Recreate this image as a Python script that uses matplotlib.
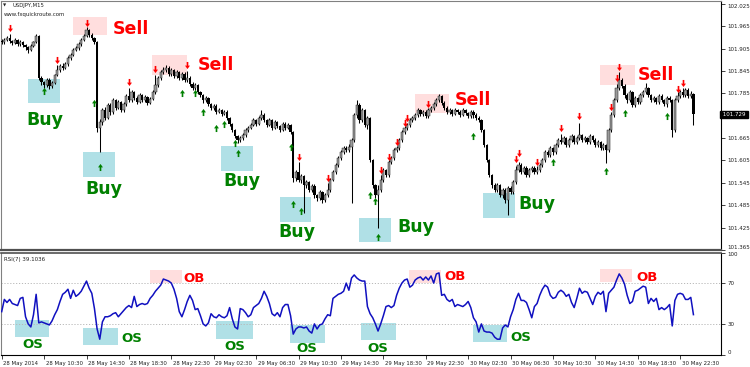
import matplotlib
matplotlib.use("Agg")
import matplotlib.pyplot as plt
import matplotlib.transforms as mtransforms
from matplotlib.patches import Rectangle
from matplotlib.path import Path
import numpy as np

# USDJPY M15, 28 May 2014 06:30 .. 30 May 23:45 ; prices in points above 101.000
close_pts = [922,928,933,925,920,928,917,922,914,909,
             901,912,922,939,826,815,807,821,805,813,
             834,847,858,853,863,880,888,901,906,917,
             928,939,955,941,933,922,692,708,740,719,
             754,735,767,746,762,740,756,778,767,788,
             772,762,780,767,775,759,770,788,807,826,
             842,847,853,837,847,831,842,826,837,821,
             826,810,799,807,788,780,767,772,756,746,
             751,735,740,730,735,719,703,687,670,660,
             665,673,687,692,700,713,703,719,727,713,
             700,713,692,708,697,687,703,692,700,681,
             558,574,553,563,539,547,526,537,512,504,
             520,499,512,526,553,574,593,612,628,638,
             633,641,660,727,754,713,740,700,719,606,
             539,512,526,553,579,566,601,612,633,638,
             660,681,692,700,713,719,727,740,730,735,
             724,740,746,756,767,778,759,746,735,740,
             730,740,735,727,740,732,724,735,727,719,
             713,687,646,606,566,539,526,539,512,526,
             499,531,520,547,579,593,574,585,566,579,
             585,574,579,593,606,628,620,638,628,646,
             660,654,665,646,660,670,654,665,673,660,
             665,654,670,660,646,654,638,646,633,687,
             727,767,800,821,805,780,767,788,754,772,
             762,780,788,799,780,767,772,762,778,767,
             756,772,767,687,767,778,788,780,794,778,
             783,729]
high_pts = [930,933,939,944,929,933,931,927,925,917,
            912,916,926,944,941,830,819,826,825,818,
            838,860,863,866,868,884,893,906,913,922,
            933,945,963,958,946,937,925,715,745,748,
            760,758,772,770,768,765,762,783,800,793,
            792,777,786,784,780,779,776,793,835,832,
            848,855,860,857,853,851,848,846,842,841,
            845,830,814,812,810,792,784,778,776,760,
            757,755,745,744,740,739,722,706,690,674,
            670,678,692,698,706,719,717,725,740,731,
            716,720,716,714,712,701,708,707,706,704,
            684,580,600,569,567,553,551,543,541,516,
            526,524,518,545,558,580,598,618,633,645,
            643,648,665,733,767,758,746,744,725,722,
            610,543,540,566,584,583,606,618,638,645,
            665,686,697,705,718,725,732,745,744,741,
            739,746,751,762,773,783,781,763,750,746,
            744,745,744,739,745,744,736,740,739,731,
            723,716,690,650,610,570,545,545,543,532,
            530,536,536,552,590,600,597,590,589,584,
            590,589,590,598,612,633,632,643,642,651,
            665,675,670,669,665,676,674,670,705,677,
            670,669,675,674,664,659,658,651,650,692,
            735,773,810,842,826,809,785,794,792,778,
            776,786,793,813,803,784,778,776,784,782,
            771,777,777,771,772,788,794,800,799,798,
            790,787]
low_pts = [916,918,925,920,914,917,912,913,908,902,
           894,897,908,919,820,808,800,803,796,800,
           810,830,843,848,849,859,875,884,897,901,
           912,924,935,936,928,916,680,628,700,713,
           715,728,730,740,742,735,736,751,762,762,
           767,756,758,762,762,754,755,766,784,803,
           821,838,842,832,832,826,827,820,820,815,
           816,805,794,795,782,775,760,762,750,740,
           741,730,731,725,726,714,698,681,664,652,
           655,660,668,682,688,696,698,699,714,708,
           694,696,687,688,692,681,683,687,688,676,
           547,550,548,545,465,532,520,521,505,495,
           499,490,494,507,521,549,569,588,607,622,
           627,628,491,655,720,706,709,694,690,600,
           532,505,424,520,548,560,561,595,607,628,
           633,655,676,687,695,708,714,722,725,725,
           719,719,735,740,750,762,753,740,730,730,
           725,726,729,722,723,727,719,720,720,714,
           707,682,640,600,560,532,520,521,506,505,
           492,459,514,515,542,574,568,569,560,561,
           574,568,569,574,588,601,614,615,620,623,
           641,648,649,640,641,655,648,649,660,654,
           655,648,649,654,640,641,632,633,598,628,
           682,722,762,795,798,772,760,762,748,749,
           756,757,775,783,775,761,762,756,757,761,
           750,748,762,668,682,762,773,775,775,773,
           773,700]
first_open_pts = 925

rsi = [42,54,51,54,50,49,48,55,56,37,
       30,27,39,59,31,32,31,30,29,33,
       39,44,52,59,61,64,55,63,57,59,
       62,67,72,65,60,45,25,15,32,37,
       37,38,40,41,37,40,43,46,48,46,
       57,47,49,50,49,50,55,58,62,65,
       68,74,73,72,70,64,55,42,37,44,
       52,58,53,44,45,38,30,28,31,40,
       37,36,39,37,36,38,46,35,27,25,
       45,44,41,37,39,46,48,50,55,62,
       57,50,40,38,41,37,46,49,49,38,
       20,25,27,27,26,27,23,21,30,25,
       29,30,35,39,38,55,57,59,60,62,
       70,63,75,78,75,73,72,72,47,40,
       36,30,23,30,38,47,48,46,48,58,
       65,70,73,74,66,68,73,75,76,73,
       76,73,77,70,79,80,58,59,54,52,
       54,47,49,48,47,49,52,46,36,32,
       22,30,23,22,22,21,17,15,15,26,
       29,27,37,44,54,60,53,53,51,44,
       36,47,50,58,64,68,66,58,55,56,
       61,63,61,57,59,51,46,55,65,60,
       62,61,55,49,57,61,59,62,42,60,
       63,66,73,79,75,69,58,50,52,62,
       63,65,67,66,50,55,52,55,44,46,
       44,46,49,28,53,59,60,59,54,54,
       56,39.1036]

time_labels = ["28 May 2014", "28 May 10:30", "28 May 14:30", "28 May 18:30",
               "28 May 22:30", "29 May 02:30", "29 May 06:30", "29 May 10:30",
               "29 May 14:30", "29 May 18:30", "29 May 22:30", "30 May 02:30",
               "30 May 06:30", "30 May 10:30", "30 May 14:30", "30 May 18:30",
               "30 May 22:30"]
price_ticks = [101.365, 101.425, 101.485, 101.545, 101.605, 101.665,
               101.785, 101.845, 101.905, 101.965, 102.025]
rsi_ticks = [0, 30, 70, 100]
last_price = 101.729

# signal arrows (bar, points)
sell_bars = [3,21,32,48,58,70,112,123,143,146,149,152,153,161,194,195,202,211,218,230,232,233,255,257]
sell_pts = [960,874,973,815,850,860,614,558,579,614,654,706,720,756,610,624,601,692,724,748,826,855,796,813]
buy_bars = [16,35,37,68,73,76,81,84,88,89,109,110,113,139,141,142,178,208,228,235,251]
buy_pts = [790,759,587,786,786,735,692,703,652,625,641,488,470,512,496,400,670,601,577,732,724]

# highlighted zones: (bar from, bar to, low pts, high pts)
buy_zones = [(9.9,22.0,759,823), (30.7,42.8,561,628), (82.8,94.7,577,644),
             (105.0,116.7,440,507), (134.8,146.9,386,451), (181.6,193.7,451,518)]
sell_zones = [(26.9,39.7,941,989), (56.7,69.9,834,888), (156.0,168.8,732,783),
              (225.8,239.0,807,861)]
buy_text = [(9.5,701), (31.4,515), (83.5,537), (104.3,400), (149.2,413), (194.8,475)]
sell_text = [(42.0,944), (74.1,847), (171.1,754), (240.1,821)]

# RSI zones: (bar from, bar to, rsi low, rsi high)
os_zones = [(5.0,17.9,17,33.5), (30.8,43.8,9.7,26), (80.9,94.8,15.6,32.5),
            (108.8,122.0,11.4,29.3), (135.7,148.8,13.8,31), (177.7,190.8,12.4,29.3)]
ob_zones = [(56.0,67.9,70,83), (153.8,165.7,70,83), (225.8,237.8,71,84)]
os_text = [(7.9,5.9), (45.3,12.7), (83.9,4.9), (111.1,2.0), (138.1,2.0), (191.8,13.7)]
ob_text = [(68.5,71.3), (166.9,73.2), (239.6,72.2)]

to_price = lambda v: 101 + np.asarray(v, dtype=float) / 1000

c = to_price(close_pts)
h = to_price(high_pts)
l = to_price(low_pts)
o = np.concatenate([[to_price(first_open_pts)], c[:-1]])
x = np.arange(len(c))

# arrow marker shapes (MT4 style up / down arrows)
up_arrow = Path([(-0.14, -0.6), (0.14, -0.6), (0.14, 0.02), (0.42, 0.02), (0, 0.6),
                 (-0.42, 0.02), (-0.14, 0.02), (-0.14, -0.6)])
down_arrow = Path([(px, -py) for px, py in up_arrow.vertices])

fig = plt.figure(figsize=(7.5, 3.67), dpi=100)
ax = fig.add_axes([1/750, 1 - 250/367, 720/750, 249/367])
ax2 = fig.add_axes([1/750, 1 - 354.5/367, 720/750, 102/367])

BLUE_BOX = '#b0e0e6'
PINK_BOX = '#ffdede'
RED = '#ff0000'
GREEN = '#008000'

# --- main chart
for b0, b1, lo, hi in buy_zones:
    ax.add_patch(Rectangle((b0, to_price(lo)), b1 - b0, to_price(hi) - to_price(lo),
                           color=BLUE_BOX, lw=0, zorder=1))
for b0, b1, lo, hi in sell_zones:
    ax.add_patch(Rectangle((b0, to_price(lo)), b1 - b0, to_price(hi) - to_price(lo),
                           color=PINK_BOX, lw=0, zorder=1))

ax.vlines(x, l, h, color='black', lw=0.75, zorder=2)
up = c >= o
body = np.where(np.abs(c - o) < 0.002, 0.002, c - o)
ax.bar(x[up], body[up], bottom=o[up], width=0.85, color='#9a9a9a',
       edgecolor='#202020', linewidth=0.35, zorder=3)
ax.bar(x[~up], body[~up], bottom=o[~up], width=0.85, color='black', lw=0, zorder=3)

ax.scatter(sell_bars, to_price(sell_pts), marker=down_arrow, s=26, color=RED,
           linewidths=0, zorder=4)
ax.scatter(buy_bars, to_price(buy_pts), marker=up_arrow, s=26, color=GREEN,
           linewidths=0, zorder=4)

for b, p in buy_text:
    ax.text(b, to_price(p), 'Buy', color=GREEN, fontsize=12.5, fontweight='bold',
            ha='left', va='baseline', zorder=5)
for b, p in sell_text:
    ax.text(b, to_price(p), 'Sell', color=RED, fontsize=12.5, fontweight='bold',
            ha='left', va='baseline', zorder=5)

ax.set_xlim(-0.26, 271.4)
ax.set_ylim(101.365, 102.0323)
ax.set_xticks([])
ax.yaxis.tick_right()
ax.set_yticks(price_ticks)
ax.set_yticklabels(['%.3f' % t for t in price_ticks])
ax.tick_params(axis='y', length=3, width=0.6, pad=1.5, labelsize=4, colors='#202020')
ax.get_yticklabels()[0].set_verticalalignment('bottom')
ax.get_yticklabels()[-1].set_verticalalignment('top')
ax.text(1.0, last_price, ' 101.729 ', transform=ax.get_yaxis_transform(),
        color='white', fontsize=4, ha='left', va='center', zorder=6,
        bbox=dict(facecolor='black', edgecolor='black', pad=0.6), clip_on=False)

ax.text(0.0056, 0.982, '\u25bc', transform=ax.transAxes, fontsize=3, ha='center',
        va='center', color='#202020')
ax.text(0.0153, 0.982, 'USDJPY,M15', transform=ax.transAxes, fontsize=3.8,
        ha='left', va='center', color='#202020')
ax.text(0.0042, 0.944, 'www.fxquickroute.com', transform=ax.transAxes, fontsize=3.9,
        ha='left', va='center', color='#202020')

for side in ['top', 'left']:
    ax.spines[side].set_color('#808080')
ax.spines['right'].set_color('black')
ax.spines['bottom'].set_color('#505050')
ax.spines['bottom'].set_linewidth(1.6)

# --- RSI pane
for b0, b1, lo, hi in os_zones:
    ax2.add_patch(Rectangle((b0, lo), b1 - b0, hi - lo, color=BLUE_BOX, lw=0, zorder=1))
for b0, b1, lo, hi in ob_zones:
    ax2.add_patch(Rectangle((b0, lo), b1 - b0, hi - lo, color=PINK_BOX, lw=0, zorder=1))
for lev in (30, 70):
    ax2.axhline(lev, color='#b8b8b8', lw=0.7, ls=(0, (1.2, 1.8)), zorder=1)
ax2.plot(x, rsi, color='#1010c0', lw=1.1, zorder=3)
for b, r in os_text:
    ax2.text(b, r, 'OS', color=GREEN, fontsize=9.5, fontweight='bold',
             ha='left', va='baseline', zorder=5)
for b, r in ob_text:
    ax2.text(b, r, 'OB', color=RED, fontsize=9.5, fontweight='bold',
             ha='left', va='baseline', zorder=5)
ax2.text(0.0042, 0.936, 'RSI(7) 39.1036', transform=ax2.transAxes, fontsize=4,
         ha='left', va='center', color='#202020')

ax2.set_xlim(-0.26, 271.4)
ax2.set_ylim(0, 100)
ax2.yaxis.tick_right()
ax2.set_yticks(rsi_ticks)
ax2.tick_params(axis='y', length=3, width=0.6, pad=1.5, labelsize=4, colors='#202020')
ax2.get_yticklabels()[0].set_verticalalignment('bottom')
ax2.get_yticklabels()[-1].set_verticalalignment('top')
ax2.set_xticks(np.arange(len(time_labels)) * 16)
ax2.set_xticklabels(time_labels)
ax2.tick_params(axis='x', length=3, width=0.6, pad=1.5, labelsize=3.9, colors='#202020')
shift = mtransforms.ScaledTranslation(1.5 / 100, 0, fig.dpi_scale_trans)
for lab in ax2.get_xticklabels():
    lab.set_horizontalalignment('left')
    lab.set_transform(lab.get_transform() + shift)
ax2.spines['top'].set_color('#505050')
ax2.spines['top'].set_linewidth(1.2)
ax2.spines['left'].set_color('#808080')
ax2.spines['right'].set_color('black')
ax2.spines['bottom'].set_color('black')

fig.savefig('out.png', dpi=100)
